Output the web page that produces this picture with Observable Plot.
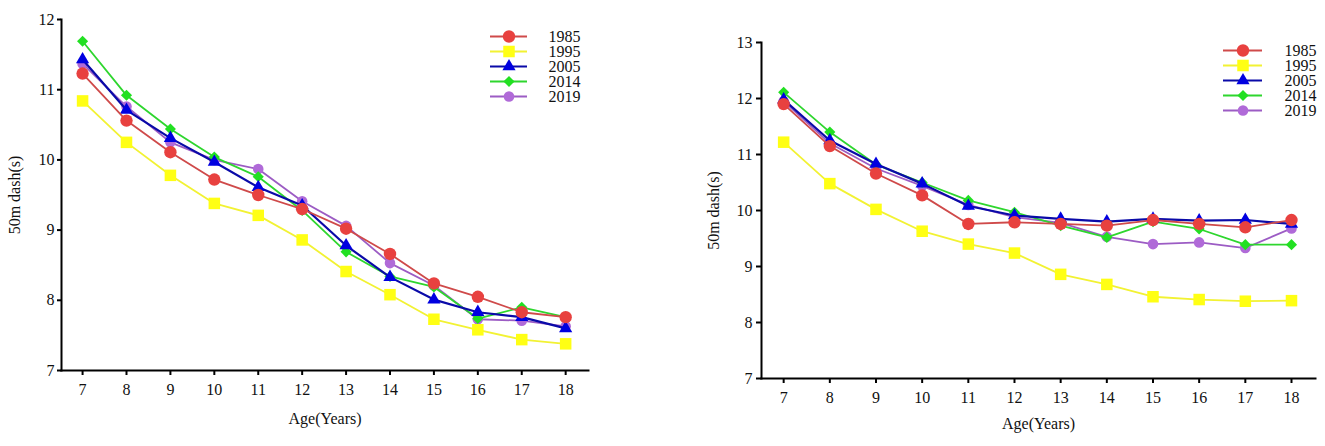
<!DOCTYPE html>
<html>
<head>
<meta charset="utf-8">
<script src="https://cdn.jsdelivr.net/npm/d3@7"></script>
<script src="https://cdn.jsdelivr.net/npm/@observablehq/plot@0.6"></script>
<style>
  html, body { margin: 0; padding: 0; background: #fff; }
  #wrap { position: relative; width: 1325px; height: 446px; font-family: "Liberation Serif", serif; }
  .abs { position: absolute; }
  svg { overflow: visible; }
</style>
</head>
<body>
<div id="wrap"></div>
<script>
// ---------- data ----------
const ages = [7, 8, 9, 10, 11, 12, 13, 14, 15, 16, 17, 18];
const years = ["1985", "1995", "2005", "2014", "2019"];

// left panel
const left1985 = [11.23, 10.56, 10.11, 9.72, 9.50, 9.30, 9.02, 8.66, 8.24, 8.05, 7.83, 7.76];
const left1995 = [10.84, 10.25, 9.78, 9.38, 9.21, 8.86, 8.41, 8.08, 7.73, 7.58, 7.44, 7.38];
const left2005 = [11.43, 10.71, 10.31, 9.97, 9.61, 9.35, 8.78, 8.33, 8.01, 7.83, 7.76, 7.60];
const left2014 = [11.69, 10.92, 10.44, 10.04, 9.76, 9.28, 8.69, 8.34, 8.19, 7.74, 7.90, 7.76];
const left2019 = [11.37, 10.76, 10.25, 10.00, 9.87, 9.41, 9.06, 8.53, 8.21, 7.73, 7.71, 7.63];

// right panel
const right1985 = [11.90, 11.15, 10.66, 10.27, 9.76, 9.79, 9.76, 9.73, 9.83, 9.76, 9.70, 9.83];
const right1995 = [11.22, 10.48, 10.02, 9.63, 9.40, 9.24, 8.86, 8.68, 8.46, 8.41, 8.38, 8.39];
const right2005 = [11.98, 11.25, 10.83, 10.48, 10.08, 9.91, 9.85, 9.80, 9.85, 9.82, 9.83, 9.76];
const right2014 = [12.11, 11.40, 10.82, 10.50, 10.18, 9.97, 9.73, 9.52, 9.80, 9.67, 9.39, 9.39];
const right2019 = [11.95, 11.20, 10.75, 10.44, 10.10, 9.88, 9.78, 9.53, 9.40, 9.43, 9.33, 9.68];

const yTicksLeft = [7, 8, 9, 10, 11, 12];
const yTicksRight = [7, 8, 9, 10, 11, 12, 13];
const yLabel = "50m dash(s)";
const xLabel = "Age(Years)";

// ---------- styles ----------
const style = {
  "1985": {line: "#cf4a4a", fill: "#e8413f", symbol: "circle", r: 6.2, w: 1.8},
  "1995": {line: "#f2f233", fill: "#ffff14", symbol: "square", r: 6.5, w: 1.8},
  "2005": {line: "#0a0aa8", fill: "#0000e0", symbol: "triangle", r: 4.9, w: 2.2},
  "2014": {line: "#2ed62e", fill: "#22e022", symbol: "diamond2", r: 5.0, w: 1.8},
  "2019": {line: "#9c5cc4", fill: "#b06ad8", symbol: "circle", r: 5.3, w: 1.8}
};
const drawOrder = ["2019", "2014", "2005", "1995", "1985"];

function rows(arrs) {
  const out = [];
  years.forEach((yr, i) => arrs[i].forEach((v, j) => out.push({year: yr, age: ages[j], v})));
  return out;
}
const leftData = rows([left1985, left1995, left2005, left2014, left2019]);
const rightData = rows([right1985, right1995, right2005, right2014, right2019]);

const font = "Liberation Serif, serif";
const FS = 16;

function panel(data, cfg) {
  const marks = [];
  for (const yr of drawOrder) {
    const s = style[yr];
    const d = data.filter(r => r.year === yr);
    marks.push(Plot.line(d, {x: "age", y: "v", stroke: s.line, strokeWidth: s.w}));
    marks.push(Plot.dot(d, {x: "age", y: "v", fill: s.fill, symbol: () => s.symbol, r: s.r, stroke: "none"}));
  }
  marks.push(Plot.axisY({ticks: cfg.yTicks, tickSize: cfg.tickSizeY, tickPadding: cfg.tickPadY, fontSize: FS,
    tickFormat: d => String(d),
    label: null, stroke: "#000", strokeWidth: 2}));
  marks.push(Plot.axisX({ticks: ages, tickSize: 5, tickPadding: 8, fontSize: FS, tickFormat: d => String(d),
    label: null, stroke: "#000", strokeWidth: 2}));
  marks.push(Plot.frame({anchor: "left", stroke: "#000", strokeWidth: 2}));
  marks.push(Plot.frame({anchor: "bottom", stroke: "#000", strokeWidth: 2}));
  // axis titles
  marks.push(Plot.text([yLabel], {frameAnchor: "left", dx: -cfg.yLabelOffset, rotate: -90, text: d => d,
    fontSize: FS, fill: "#111", textAnchor: "middle"}));
  marks.push(Plot.text([xLabel], {frameAnchor: "bottom", dy: cfg.xLabelOffset, text: d => d,
    fontSize: FS, fill: "#111", textAnchor: "middle"}));
  return Plot.plot({
    width: cfg.width, height: 446,
    marginLeft: cfg.ml, marginRight: cfg.mr, marginTop: cfg.mt, marginBottom: cfg.mb,
    style: {fontFamily: font, fontSize: FS + "px", color: "#111", background: "transparent"},
    x: {domain: [6.52, 18.52]},
    y: {domain: cfg.yDomain},
    symbol: {type: "identity"},
    marks
  });
}

function legend(cfg) {
  const marks = [];
  for (const yr of years) {
    const s = style[yr];
    const ld = [{year: yr}];
    marks.push(Plot.ruleY(ld, {y: "year", x1: 0, x2: cfg.lineLen, stroke: s.line, strokeWidth: s.w}));
    marks.push(Plot.dot(ld, {y: "year", x: cfg.lineLen / 2, fill: s.fill, symbol: () => s.symbol, r: s.r, stroke: "none"}));
    marks.push(Plot.text(ld, {y: "year", x: cfg.textX, text: "year", textAnchor: "start", fontSize: FS, fill: "#111"}));
  }
  return Plot.plot({
    width: cfg.width, height: cfg.height, margin: 0,
    style: {fontFamily: font, fontSize: FS + "px", color: "#111", background: "transparent"},
    x: {domain: [0, cfg.width], range: [0, cfg.width], axis: null},
    y: {domain: years, type: "point", padding: 0, range: [8, 8 + 4 * cfg.step], axis: null},
    symbol: {type: "identity"},
    marks
  });
}

const wrap = document.getElementById("wrap");

const p1 = panel(leftData, {width: 640, ml: 61, mr: 52, mt: 19, mb: 76, yDomain: [7, 12], yTicks: yTicksLeft,
  tickSizeY: 4, tickPadY: 3, yLabelOffset: 47, xLabelOffset: 53});
p1.classList.add("abs"); p1.style.left = "0px"; p1.style.top = "0px";
wrap.appendChild(p1);

const p2 = panel(rightData, {width: 645, ml: 81, mr: 10, mt: 42, mb: 68, yDomain: [7, 13], yTicks: yTicksRight,
  tickSizeY: 5, tickPadY: 4, yLabelOffset: 48, xLabelOffset: 50});
p2.classList.add("abs"); p2.style.left = "680px"; p2.style.top = "0px";
wrap.appendChild(p2);

const l1 = legend({width: 100, height: 90, step: 15.7, lineLen: 37, textX: 58});
l1.classList.add("abs"); l1.style.left = "490px"; l1.style.top = "27px";
wrap.appendChild(l1);

const l2 = legend({width: 100, height: 90, step: 15.3, lineLen: 39, textX: 61});
l2.classList.add("abs"); l2.style.left = "1223px"; l2.style.top = "41px";
wrap.appendChild(l2);
</script>
</body>
</html>
